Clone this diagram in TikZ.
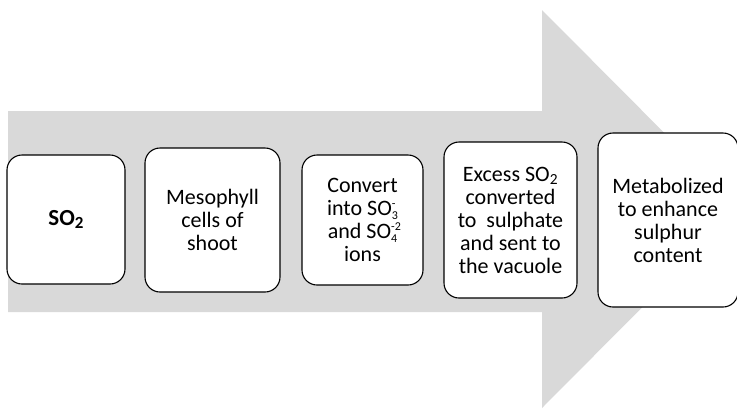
\documentclass[tikz,border=0pt]{standalone}
\usepackage{fontspec}
\setmainfont{Carlito}
\definecolor{arrowgrey}{HTML}{D9D9D9}
% stacked sub/superscript for ions
\newcommand{\ionSO}[2]{SO\rlap{\raisebox{0.8ex}{\fontsize{12}{12}\selectfont#2}}\raisebox{-0.4ex}{\fontsize{12}{12}\selectfont#1}}
\begin{document}
\begin{tikzpicture}[x=1pt, y=-1pt,
    % Styles
    stage/.style={
        draw=black, line width=1.1pt, rounded corners=15pt,
        fill=white, align=center, inner sep=2pt,
        font=\fontsize{22}{23}\selectfont
    },
    bigarrow/.style={
        fill=arrowgrey, draw=none
    }
]
\useasboundingbox (0,0) rectangle (737,408);

% =============================================
% FLECHA DE FONDO
% =============================================
\path[bigarrow] (8,111) -- (542,111) -- (542,10) -- (740,209)
    -- (542,408) -- (542,312) -- (8,312) -- cycle;

% =============================================
% ETAPAS (de izquierda a derecha)
% =============================================
\node[stage, minimum width=118pt, minimum height=129pt,
      font=\fontsize{23}{24}\selectfont\bfseries] (so2) at (66,219.5)
    {SO\raisebox{-0.35ex}{\fontsize{17}{17}\selectfont 2}};

\node[stage, minimum width=135pt, minimum height=144pt] (meso) at (212.5,220)
    {Mesophyll\\cells of\\shoot};

\node[stage, minimum width=121pt, minimum height=130pt] (conv) at (362.5,220)
    {Convert\\into \ionSO{3}{-}\\and \ionSO{4}{-2}\\ions};

\node[stage, minimum width=133pt, minimum height=156pt] (excess) at (510.5,220)
    {Excess SO\textsubscript{2}\\converted\\to\ \ sulphate\\and sent to\\the vacuole};

\node[stage, minimum width=140pt, minimum height=174pt] (metab) at (668,220)
    {Metabolized\\to enhance\\sulphur\\content};

\end{tikzpicture}
\end{document}
